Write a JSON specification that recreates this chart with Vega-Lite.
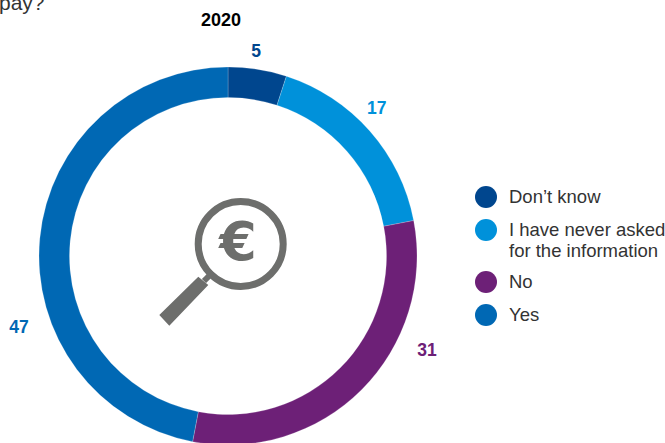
{
"$schema":"https://vega.github.io/schema/vega-lite/v6.json",
"width":456,"height":374,
"autosize":{"type":"none"},
"padding":{"left":0,"top":69,"right":209,"bottom":0},
"background":"white",
"config":{"view":{"stroke":null}},
"data":{"values":[
{"answer":"Don’t know","value":5,"rank":1},
{"answer":"I have never asked for the information","value":17,"rank":2},
{"answer":"No","value":31,"rank":3},
{"answer":"Yes","value":47,"rank":4}]},
"layer":[
{"mark":{"type":"arc","outerRadius":189,"innerRadius":158.5,"stroke":"white","strokeWidth":0.2},
"encoding":{
"theta":{"field":"value","type":"quantitative","stack":true,"scale":{"domain":[0,100]}},
"order":{"field":"rank","type":"ordinal"},
"color":{"field":"answer","type":"nominal","scale":{"domain":["Don’t know","I have never asked for the information","No","Yes"],"range":["#00468E","#0091DA","#6D2077","#0068B4"]},
"legend":{"title":null,"orient":"none","legendX":475,"legendY":117,"symbolType":"circle","symbolSize":484,"symbolStrokeWidth":0,"symbolOpacity":1,"labelFont":"Liberation Sans","labelFontSize":18.5,"labelColor":"#333333","labelLimit":300,"labelOffset":12,"rowPadding":11,"labelExpr":"datum.label === 'I have never asked for the information' ? ['I have never asked','for the information'] : datum.label"}}}},
{"transform":[{"stack":"value","sort":[{"field":"rank"}],"as":["v0","v1"]},{"calculate":"(datum.v0+datum.v1)/2","as":"mid"},{"filter":"datum.rank==1"}],
"mark":{"type":"text","radius":205,"font":"Liberation Sans","fontWeight":"bold","fontSize":17.5,"dx":-4,"dy":-1.5},
"encoding":{"theta":{"field":"mid","type":"quantitative"},"text":{"field":"value"},"color":{"field":"answer","type":"nominal","legend":null}}},
{"transform":[{"stack":"value","sort":[{"field":"rank"}],"as":["v0","v1"]},{"calculate":"(datum.v0+datum.v1)/2","as":"mid"},{"filter":"datum.rank==2"}],
"mark":{"type":"text","radius":205,"font":"Liberation Sans","fontWeight":"bold","fontSize":17.5,"dx":-5,"dy":-11.5},
"encoding":{"theta":{"field":"mid","type":"quantitative"},"text":{"field":"value"},"color":{"field":"answer","type":"nominal","legend":null}}},
{"transform":[{"stack":"value","sort":[{"field":"rank"}],"as":["v0","v1"]},{"calculate":"(datum.v0+datum.v1)/2","as":"mid"},{"filter":"datum.rank==3"}],
"mark":{"type":"text","radius":205,"font":"Liberation Sans","fontWeight":"bold","fontSize":17.5,"dx":54,"dy":-50},
"encoding":{"theta":{"field":"mid","type":"quantitative"},"text":{"field":"value"},"color":{"field":"answer","type":"nominal","legend":null}}},
{"transform":[{"stack":"value","sort":[{"field":"rank"}],"as":["v0","v1"]},{"calculate":"(datum.v0+datum.v1)/2","as":"mid"},{"filter":"datum.rank==4"}],
"mark":{"type":"text","radius":205,"font":"Liberation Sans","fontWeight":"bold","fontSize":17.5,"dx":-5,"dy":91},
"encoding":{"theta":{"field":"mid","type":"quantitative"},"text":{"field":"value"},"color":{"field":"answer","type":"nominal","legend":null}}},
{"data":{"values":[{"t":"2020"}]},
"mark":{"type":"text","font":"Liberation Sans","fontWeight":"bold","fontSize":18,"color":"black","dx":-7,"dy":-235},
"encoding":{"text":{"field":"t"}}},
{"data":{"values":[{"t":"pay?"}]},
"mark":{"type":"text","font":"Liberation Sans","fontSize":21,"color":"#333333","align":"left","baseline":"alphabetic","dx":-229,"dy":-246},
"encoding":{"text":{"field":"t"}}},
{"data":{"values":[{"t":"ring"}]},
"mark":{"type":"point","filled":false,"opacity":1,"stroke":"#6D6E6C","strokeWidth":7,"size":7225,"xOffset":12.7,"yOffset":-12},
"encoding":{}},
{"data":{"values":[{"t":"handle"}]},
"mark":{"type":"point","filled":true,"opacity":1,"fill":"#6D6E6C","strokeWidth":0,"size":4,"shape":"M-68.7,59L-58.7,69.7L-19.7,29L-29.7,20.7ZM-26.1,22.9L-21.9,27.1L-12.9,18.1L-17.1,13.9Z"},
"encoding":{}},
{"data":{"values":[{"t":"€"}]},
"mark":{"type":"text","font":"DejaVu Sans","fontWeight":"bold","fontSize":54,"color":"#6D6E6C","dx":10,"dy":-12},
"encoding":{"text":{"field":"t"}}}
]
}
